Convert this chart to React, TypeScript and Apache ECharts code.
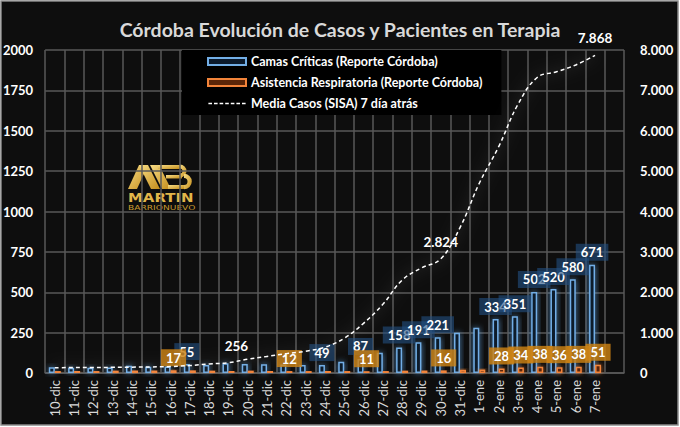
import React, { useEffect, useRef } from "react";
import * as echarts from "echarts";

const categories = [
  "10-dic", "11-dic", "12-dic", "13-dic", "14-dic", "15-dic", "16-dic", "17-dic", "18-dic", "19-dic",
  "20-dic", "21-dic", "22-dic", "23-dic", "24-dic", "25-dic", "26-dic", "27-dic", "28-dic", "29-dic",
  "30-dic", "31-dic", "1-ene", "2-ene", "3-ene", "4-ene", "5-ene", "6-ene", "7-ene",
];
const camasCriticas = [35, 32, 33, 34, 45, 38, 40, 55, 50, 60, 56, 54, 52, 50, 49, 70, 87, 125, 158, 191, 221, 250, 280, 334, 351, 502, 520, 580, 671];
const asistenciaResp = [12, 13, 12, 14, 15, 15, 17, 16, 14, 13, 14, 13, 12, 12, 13, 12, 11, 12, 14, 15, 16, 20, 22, 28, 34, 38, 36, 38, 51];
const mediaCasos = [130, 135, 135, 140, 145, 150, 160, 185, 225, 256, 340, 410, 480, 540, 640, 860, 1230, 1700, 2300, 2600, 2824, 3600, 4700, 5600, 6650, 7320, 7460, 7630, 7868];

const camasLabelled = ["17-dic", "24-dic", "26-dic", "28-dic", "29-dic", "30-dic", "2-ene", "3-ene", "4-ene", "5-ene", "6-ene", "7-ene"];
const respLabelled = ["16-dic", "22-dic", "26-dic", "30-dic", "2-ene", "3-ene", "4-ene", "5-ene", "6-ene", "7-ene"];
const mediaLabelled = ["19-dic", "30-dic", "7-ene"];

const leftTicks = { min: 0, max: 2000, interval: 250 };
const rightTicks = { min: 0, max: 8000, interval: 1000 };

const seriesNames = [
  "Camas Críticas (Reporte Córdoba)",
  "Asistencia Respiratoria (Reporte Córdoba)",
  "Media Casos (SISA) 7 día atrás",
];

const title = "Córdoba Evolución de Casos y Pacientes en Terapia";

const dotThousands = (v: number) => String(v).replace(/\B(?=(\d{3})+(?!\d))/g, ".");

const FONT = "Lato";

const dashIcon =
  "path://M0,0h0.01v0.01h-0.01z M0,7h0.01v-0.01h-0.01z " +
  [0, 5.6, 11.2, 16.8, 22.4, 28, 33.6].map((x) => `M${x},2.8h3.6v1.5h-3.6z`).join(" ");

export default function App() {
  const ref = useRef<HTMLDivElement>(null);
  useEffect(() => {
    if (!ref.current) return;
    const chart = echarts.init(ref.current, undefined, { renderer: "svg" });
    const cats = [...categories, ""];
    const gold = new echarts.graphic.LinearGradient(0, 0, 1, 1, [
      { offset: 0, color: "#f7dc85" },
      { offset: 1, color: "#c48d1a" },
    ]);

    const blueLabel = {
      show: true,
      position: "top",
      distance: 4,
      color: "#ffffff",
      fontFamily: FONT,
      fontWeight: "bold",
      fontSize: 13,
      backgroundColor: "rgba(35,80,130,0.6)",
      padding: [2, 5],
    };
    const orangeLabel = {
      show: true,
      position: "top",
      distance: 4,
      color: "#ffffff",
      fontFamily: FONT,
      fontWeight: "bold",
      fontSize: 13,
      backgroundColor: "rgba(205,130,20,0.82)",
      padding: [2, 5],
    };

    chart.setOption({
      animation: false,
      backgroundColor: "#ffffff",
      textStyle: { fontFamily: FONT },
      title: {
        text: title,
        left: "center",
        top: 14,
        textStyle: { color: "#d9d9d9", fontSize: 19.5, fontWeight: "bold", fontFamily: FONT },
      },
      graphic: [
        {
          type: "rect",
          z: -10,
          silent: true,
          shape: { x: 1, y: 1, width: 677, height: 424 },
          style: { fill: "#0e0e0e", stroke: "#8a8a8a", lineWidth: 1.5 },
        },
        {
          type: "group",
          z: 1,
          silent: true,
          children: [
            { type: "polygon", shape: { points: [[128, 189], [137, 189], [148, 165], [139, 165]] }, style: { fill: gold } },
            { type: "polygon", shape: { points: [[139, 165], [148, 165], [160, 189], [151, 189]] }, style: { fill: gold } },
            { type: "polygon", shape: { points: [[150, 165], [159, 165], [171, 189], [162, 189]] }, style: { fill: gold } },
            { type: "rect", shape: { x: 158, y: 165, width: 22, height: 4 }, style: { fill: gold } },
            { type: "rect", shape: { x: 166, y: 175, width: 16, height: 3.5 }, style: { fill: gold } },
            { type: "rect", shape: { x: 168, y: 185, width: 16, height: 4 }, style: { fill: gold } },
            {
              type: "sector",
              shape: { cx: 180, cy: 171, r0: 2.5, r: 6.5, startAngle: -Math.PI / 2, endAngle: Math.PI / 2, clockwise: true },
              style: { fill: gold },
            },
            {
              type: "sector",
              shape: { cx: 184, cy: 181.5, r0: 3.5, r: 7.8, startAngle: -Math.PI / 2, endAngle: Math.PI / 2, clockwise: true },
              style: { fill: gold },
            },
            { type: "text", x: 128, y: 191, scaleX: 1.15, style: { text: "MARTIN", fill: "#e2b64a", font: "bold 13px 'DejaVu Sans'" } },
            { type: "text", x: 128, y: 204, scaleX: 1.3, style: { text: "BARRIONUEVO", fill: "#c99a2e", font: "7px 'DejaVu Sans'" } },
          ],
        },
      ],
      legend: {
        orient: "vertical",
        left: 182,
        top: 50,
        backgroundColor: "#000000",
        padding: [4, 19, 4, 25],
        itemGap: 6,
        itemWidth: 38,
        itemHeight: 7,
        textStyle: { color: "#ffffff", fontSize: 12.5, fontWeight: "bold", fontFamily: FONT, lineHeight: 15 },
        data: [
          { name: seriesNames[0], icon: "rect" },
          { name: seriesNames[1], icon: "rect" },
          { name: seriesNames[2], icon: dashIcon, itemStyle: { color: "#ffffff", borderWidth: 0 } },
        ],
      },
      grid: { left: 45, right: 56, top: 50, bottom: 54 },
      xAxis: {
        type: "category",
        data: cats,
        boundaryGap: true,
        axisLine: { show: true, lineStyle: { color: "#5a5a5a", width: 1.5 } },
        axisTick: { show: false },
        splitLine: { show: true, interval: 0, lineStyle: { color: "#595959", width: 1.5 } },
        axisLabel: {
          interval: 0,
          rotate: 90,
          margin: 7,
          color: "#d9d9d9",
          fontSize: 13,
          fontFamily: FONT,
        },
      },
      yAxis: [
        {
          type: "value",
          ...leftTicks,
          position: "left",
          axisLine: { show: false },
          axisTick: { show: false },
          splitLine: { show: true, lineStyle: { color: "#595959", width: 1.5 } },
          axisLabel: {
            color: "#ffffff",
            fontWeight: "bold",
            fontSize: 13,
            margin: 12,
            fontFamily: FONT,
            formatter: (v: number) => String(v),
          },
        },
        {
          type: "value",
          ...rightTicks,
          position: "right",
          axisLine: { show: false },
          axisTick: { show: false },
          splitLine: { show: false },
          axisLabel: {
            color: "#ffffff",
            fontWeight: "bold",
            fontSize: 13,
            margin: 16,
            fontFamily: FONT,
            formatter: (v: number) => dotThousands(v),
          },
        },
      ],
      series: [
        {
          name: seriesNames[0],
          type: "bar",
          yAxisIndex: 0,
          barWidth: 6,
          barGap: "0%",
          itemStyle: {
            color: "#0b1a2c",
            borderColor: "#72aee6",
            borderWidth: 1.5,
            shadowBlur: 6,
            shadowColor: "rgba(91,155,213,0.8)",
          },
          data: camasCriticas.map((v, i) =>
            camasLabelled.includes(categories[i]) ? { value: v, label: blueLabel } : v
          ),
        },
        {
          name: seriesNames[1],
          type: "bar",
          yAxisIndex: 0,
          barWidth: 6,
          itemStyle: {
            color: "#5a2508",
            borderColor: "#f2843a",
            borderWidth: 1.5,
            shadowBlur: 5,
            shadowColor: "rgba(237,125,49,0.8)",
          },
          data: asistenciaResp.map((v, i) =>
            respLabelled.includes(categories[i]) ? { value: v, label: orangeLabel } : v
          ),
        },
        {
          name: seriesNames[2],
          type: "line",
          yAxisIndex: 1,
          smooth: 0.4,
          symbol: "circle",
          symbolSize: 0.01,
          showSymbol: true,
          z: 5,
          lineStyle: {
            color: "#ffffff",
            width: 1.5,
            type: [4, 3],
            shadowBlur: 14,
            shadowColor: "rgba(255,255,255,0.55)",
          },
          itemStyle: { color: "rgba(255,255,255,0)", borderWidth: 0 },
          data: mediaCasos.map((v, i) =>
            mediaLabelled.includes(categories[i])
              ? {
                  value: v,
                  label: {
                    show: true,
                    position: "top",
                    distance: 10,
                    offset: categories[i] === "19-dic" ? [8, 0] : [0, 0],
                    color: "#ffffff",
                    fontWeight: "bold",
                    fontSize: 13.5,
                    fontFamily: FONT,
                    formatter: () => dotThousands(v),
                  },
                }
              : v
          ),
        },
      ],
    });
    return () => chart.dispose();
  }, []);
  return (
    <div
      ref={ref}
      style={{ position: "absolute", left: 0, top: 0, width: 680, height: 427 }}
    />
  );
}
